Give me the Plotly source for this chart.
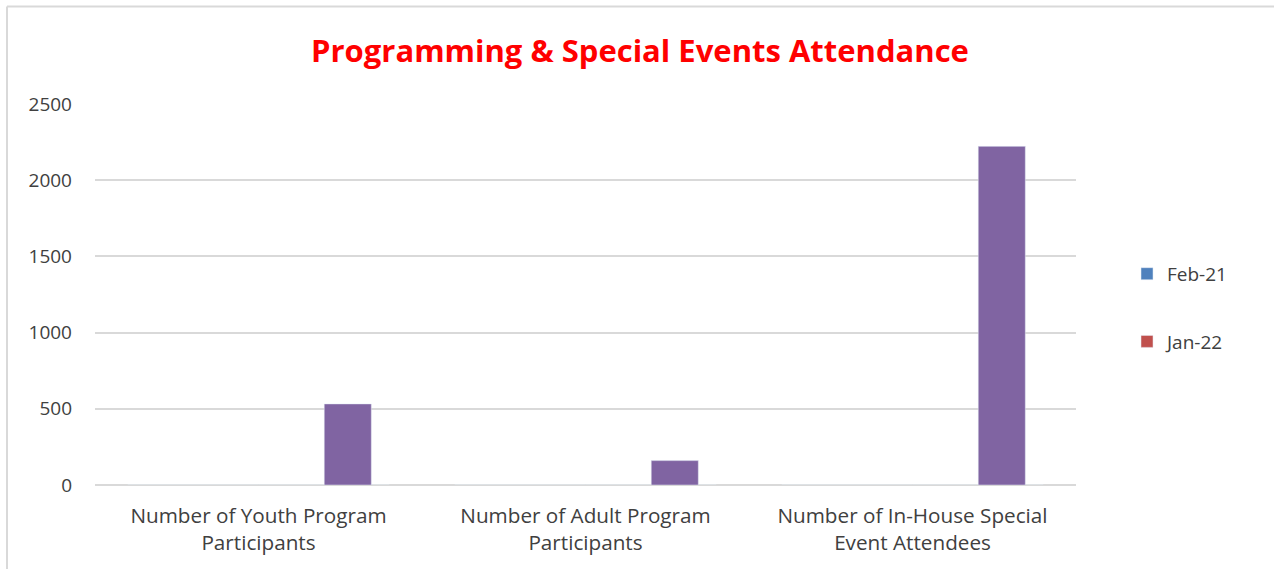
import plotly.graph_objects as go

categories = ["Number of Youth Program<br>Participants",
              "Number of Adult Program<br>Participants",
              "Number of In-House Special<br>Event Attendees"]
feb21 = [0, 0, 0]
jan22 = [0, 0, 0]
current = [532, 160, 2222]

W, H = 1274, 569
L, R, T, B = 95, 198, 104, 84
pw, ph = W - L - R, H - T - B

fig = go.Figure()
fig.add_trace(go.Bar(x=categories, y=feb21, name="Feb-21", marker_color="#4F81BD",
                     legendgroup="a"))
fig.add_trace(go.Bar(x=categories, y=jan22, name="Jan-22", marker_color="#C0504D",
                     legendgroup="b"))
# third series sits right of centre in each group, not in legend
fig.add_trace(go.Bar(x=categories, y=current, name="Current", marker_color="#8064A2",
                     width=0.144, offset=0.201, showlegend=False))

fig.update_layout(
    width=W, height=H,
    margin=dict(l=L, r=R, t=T, b=B),
    paper_bgcolor="white", plot_bgcolor="white",
    barmode="group",
    font=dict(family="Open Sans", color="#404040", size=19),
    title=dict(text="<b>Programming &amp; Special Events Attendance</b>",
               x=640 / W, xref="container", xanchor="center",
               y=1 - 51 / H, yref="container", yanchor="middle",
               font=dict(family="Open Sans", size=31, color="#FF0000")),
    legend=dict(x=1.052, xanchor="left", y=0.465, yanchor="middle",
                tracegroupgap=40, font=dict(size=19, color="#404040"),
                itemwidth=30),
    showlegend=True,
)
fig.update_xaxes(showgrid=False, showline=False, ticks="", tickfont=dict(size=20.7),
                 ticklabelstandoff=16)
fig.update_yaxes(range=[0, 2500], dtick=500, gridcolor="#D9D9D9", gridwidth=1.5,
                 zeroline=True, zerolinecolor="#D9D9D9", zerolinewidth=1.5,
                 ticks="", ticklabelstandoff=22, tickfont=dict(size=19))

# outer chart border (top and left edges visible)
x0 = (7 - L) / pw
y1 = (H - B - 6.5) / ph
fig.add_shape(type="line", xref="paper", yref="paper", x0=x0, x1=2, y0=y1, y1=y1,
              line=dict(color="#D9D9D9", width=2))
fig.add_shape(type="line", xref="paper", yref="paper", x0=x0, x1=x0, y0=y1, y1=-2,
              line=dict(color="#D9D9D9", width=2))

fig.write_html("out.html", config={"displayModeBar": False},
               post_script="document.body.style.margin='0';")
